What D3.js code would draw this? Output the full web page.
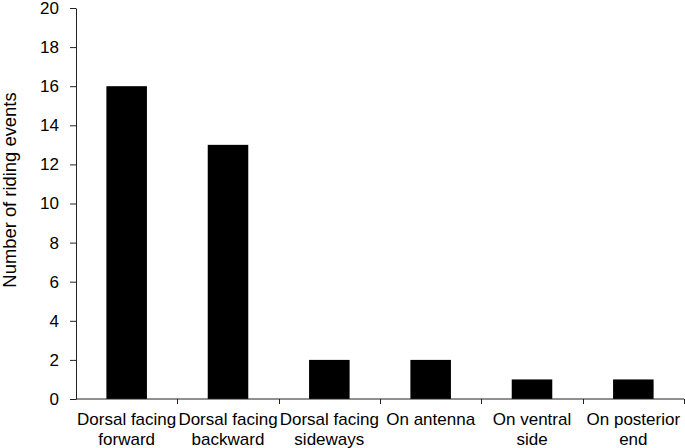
<!DOCTYPE html>
<html><head><meta charset="utf-8">
<script src="https://cdn.jsdelivr.net/npm/d3@7"></script>
<style>body{margin:0;background:#fff}svg{display:block}text{font-family:"Liberation Sans",Arial,Helvetica,sans-serif}</style>
</head><body><svg id="c" width="685" height="448"></svg>
<script>
const categories = [["Dorsal facing","forward"],["Dorsal facing","backward"],["Dorsal facing","sideways"],["On antenna"],["On ventral","side"],["On posterior","end"]];
const values = [16, 13, 2, 2, 1, 1];
const yTicks = [0,2,4,6,8,10,12,14,16,18,20];
const yLabel = "Number of riding events";

(function(){
const svg = d3.select("#c");
const mLeft = 76, mRight = 684, mTop = 8, mBottom = 399;
const keys = categories.map((c,i)=>i);
const x = d3.scaleBand().domain(keys).range([mLeft,mRight]).padding(0);
const y = d3.scaleLinear().domain([0,20]).range([mBottom,mTop]);
const fs = 17, axisColor = "#222";

// bars
const bw = x.bandwidth()*0.4;
svg.selectAll("rect.bar").data(values).enter().append("rect")
  .attr("x",(d,i)=>x(i)+x.bandwidth()/2-bw/2)
  .attr("y",d=>y(d)).attr("width",bw).attr("height",d=>mBottom-y(d))
  .attr("fill","#000");

// y axis
const ya = svg.append("g").attr("transform",`translate(${mLeft},0)`)
  .call(d3.axisLeft(y).tickValues(yTicks).tickSize(6).tickPadding(11).tickSizeOuter(0));
ya.select(".domain").attr("stroke",axisColor);
ya.selectAll(".tick line").attr("stroke",axisColor);
ya.selectAll("text").attr("font-size",fs).attr("fill","#000").attr("font-family","Liberation Sans, Arial, sans-serif");

// x axis line and ticks at band boundaries
svg.append("line").attr("x1",mLeft).attr("x2",mRight).attr("y1",mBottom).attr("y2",mBottom).attr("stroke",axisColor);
keys.forEach(i=>{
  const xb = x(i)+x.bandwidth();
  svg.append("line").attr("x1",Math.round(xb)+0.5).attr("x2",Math.round(xb)+0.5).attr("y1",mBottom).attr("y2",mBottom+5).attr("stroke",axisColor);
});
// x labels
categories.forEach((lines,i)=>{
  const t = svg.append("text").attr("text-anchor","middle").attr("font-size",fs).attr("fill","#000")
    .attr("x",x(i)+x.bandwidth()/2).attr("y",425);
  lines.forEach((l,j)=>t.append("tspan").attr("x",x(i)+x.bandwidth()/2).attr("dy",j?20:0).text(l));
});
// y label
svg.append("text").attr("transform","translate(15.5,190) rotate(-90)").attr("text-anchor","middle")
  .attr("font-size",18.4).attr("fill","#000").text(yLabel);
})();
</script></body></html>
